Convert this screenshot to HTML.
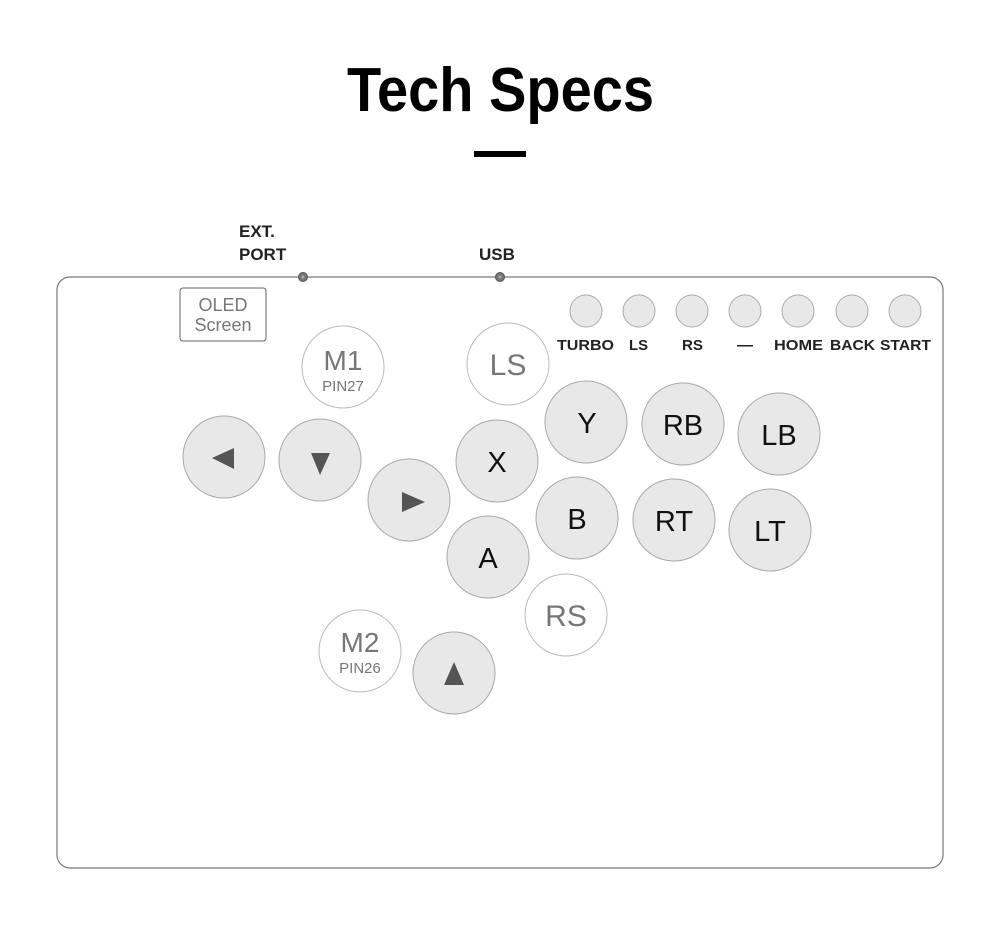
<!DOCTYPE html>
<html><head><style>html,body{margin:0;padding:0;background:#fff}svg{display:block}</style></head>
<body>
<svg width="1000" height="929" viewBox="0 0 1000 929" xmlns="http://www.w3.org/2000/svg" font-family="Liberation Sans, sans-serif">
<text x="347" y="111" font-size="62" font-weight="bold" textLength="307" lengthAdjust="spacingAndGlyphs" fill="#000">Tech Specs</text>
<rect x="474" y="151" width="52" height="6" fill="#000"/>
<text x="239" y="237" font-size="17" font-weight="bold" fill="#222">EXT.</text>
<text x="239" y="260" font-size="17" font-weight="bold" fill="#222">PORT</text>
<text x="479" y="260" font-size="17" font-weight="bold" fill="#222">USB</text>
<rect x="57" y="277" width="886" height="591" rx="13" fill="#fff" stroke="#777" stroke-width="1.2"/>
<circle cx="303" cy="277" r="4.5" fill="#777" stroke="#555"/><circle cx="303" cy="277" r="1.5" fill="#aaa"/>
<circle cx="500" cy="277" r="4.5" fill="#777" stroke="#555"/><circle cx="500" cy="277" r="1.5" fill="#aaa"/>
<rect x="180" y="288" width="86" height="53" rx="3" fill="#fff" stroke="#666"/>
<text x="223" y="311" font-size="18" fill="#777" text-anchor="middle">OLED</text>
<text x="223" y="331" font-size="18" fill="#777" text-anchor="middle">Screen</text>
<g fill="#e8e8e8" stroke="#aaa" stroke-width="1">
<circle cx="586" cy="311" r="16"/><circle cx="639" cy="311" r="16"/><circle cx="692" cy="311" r="16"/><circle cx="745" cy="311" r="16"/><circle cx="798" cy="311" r="16"/><circle cx="852" cy="311" r="16"/><circle cx="905" cy="311" r="16"/>
</g>
<g font-size="15" font-weight="bold" fill="#222">
<text x="557" y="350" textLength="57" lengthAdjust="spacingAndGlyphs">TURBO</text>
<text x="629" y="350" textLength="19" lengthAdjust="spacingAndGlyphs">LS</text>
<text x="682" y="350" textLength="21" lengthAdjust="spacingAndGlyphs">RS</text>
<text x="737" y="350" textLength="16" lengthAdjust="spacingAndGlyphs">—</text>
<text x="774" y="350" textLength="49" lengthAdjust="spacingAndGlyphs">HOME</text>
<text x="830" y="350" textLength="45" lengthAdjust="spacingAndGlyphs">BACK</text>
<text x="880" y="350" textLength="51" lengthAdjust="spacingAndGlyphs">START</text>
</g>
<g fill="#fff" stroke="#bbb" stroke-width="1">
<circle cx="343" cy="367" r="41"/><circle cx="508" cy="364" r="41"/><circle cx="566" cy="615" r="41"/><circle cx="360" cy="651" r="41"/>
</g>
<g fill="#e8e8e8" stroke="#aaa" stroke-width="1">
<circle cx="224" cy="457" r="41"/><circle cx="320" cy="460" r="41"/><circle cx="409" cy="500" r="41"/>
<circle cx="497" cy="461" r="41"/><circle cx="586" cy="422" r="41"/><circle cx="683" cy="424" r="41"/><circle cx="779" cy="434" r="41"/>
<circle cx="577" cy="518" r="41"/><circle cx="674" cy="520" r="41"/><circle cx="770" cy="530" r="41"/>
<circle cx="488" cy="557" r="41"/><circle cx="454" cy="673" r="41"/>
</g>
<g fill="#555">
<polygon points="212,458 234,448 234,469"/>
<polygon points="311,453 330,453 320,475"/>
<polygon points="402,492 425,502 402,512"/>
<polygon points="454,662 464,685 444,685"/>
</g>
<g fill="#777" text-anchor="middle">
<text x="343" y="370" font-size="28">M1</text><text x="343" y="391" font-size="15">PIN27</text>
<text x="360" y="652" font-size="28">M2</text><text x="360" y="673" font-size="15">PIN26</text>
<text x="508" y="375" font-size="30">LS</text><text x="566" y="626" font-size="30">RS</text>
</g>
<g fill="#111" text-anchor="middle" font-size="29">
<text x="497" y="472">X</text><text x="587" y="433">Y</text><text x="683" y="435">RB</text><text x="779" y="445">LB</text>
<text x="577" y="529">B</text><text x="674" y="531">RT</text><text x="770" y="541">LT</text><text x="488" y="568">A</text>
</g>
</svg>
</body></html>
